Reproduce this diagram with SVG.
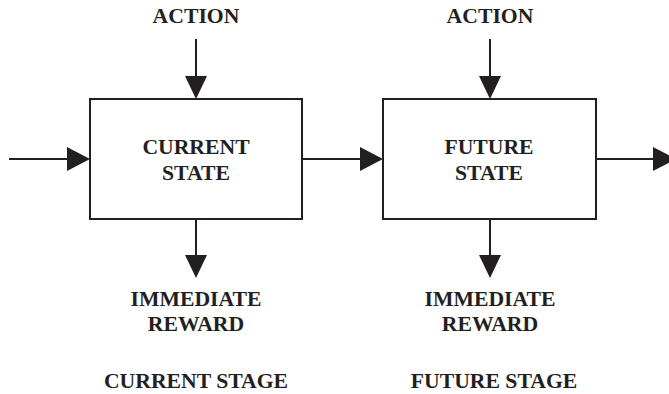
<svg xmlns="http://www.w3.org/2000/svg" width="669" height="394" viewBox="0 0 669 394">
<style>
text{font-family:"Liberation Serif","Times New Roman",serif;font-weight:bold;font-size:21.7px;fill:#231f20;text-anchor:middle}
.box{fill:#fff;stroke:#231f20;stroke-width:2}
.ln{stroke:#231f20;stroke-width:2;fill:none}
.hd{fill:#231f20}
</style>
<rect width="669" height="394" fill="#fff"/>
<g id="connectors">
<line class="ln" x1="9" y1="159" x2="70" y2="159"/><polygon class="hd" points="67,147 90,159 67,171"/>
<line class="ln" x1="302" y1="159" x2="364" y2="159"/><polygon class="hd" points="360,147 383,159 360,171"/>
<line class="ln" x1="596" y1="159" x2="656" y2="159"/><polygon class="hd" points="653,147 676,159 653,171"/>
<line class="ln" x1="196" y1="39" x2="196" y2="79"/><polygon class="hd" points="185,76 196,99 207,76"/>
<line class="ln" x1="490" y1="39" x2="490" y2="79"/><polygon class="hd" points="479,76 490,99 501,76"/>
<line class="ln" x1="196" y1="219" x2="196" y2="258"/><polygon class="hd" points="185,255 196,278 207,255"/>
<line class="ln" x1="490" y1="219" x2="490" y2="258"/><polygon class="hd" points="479,255 490,278 501,255"/>
</g>
<g id="action1"><text x="196" y="23">ACTION</text></g>
<g id="action2"><text x="490" y="23">ACTION</text></g>
<g id="current-state"><rect class="box" x="90" y="99" width="212" height="120"/><text x="196" y="154">CURRENT</text><text x="196" y="180">STATE</text></g>
<g id="future-state"><rect class="box" x="383" y="99" width="213" height="120"/><text x="489" y="154">FUTURE</text><text x="489" y="180">STATE</text></g>
<g id="reward1"><text x="196" y="306">IMMEDIATE</text><text x="196" y="331">REWARD</text></g>
<g id="reward2"><text x="490" y="306">IMMEDIATE</text><text x="490" y="331">REWARD</text></g>
<g id="stage1"><text x="196" y="388">CURRENT STAGE</text></g>
<g id="stage2"><text x="494" y="388">FUTURE STAGE</text></g>
</svg>
